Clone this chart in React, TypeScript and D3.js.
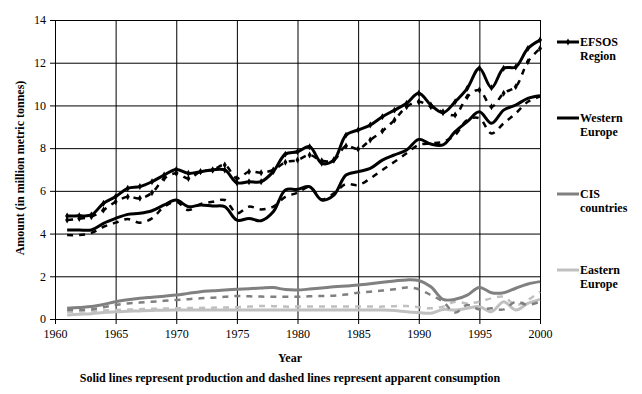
import { useEffect, useRef } from 'react';
import * as d3 from 'd3';

const years = d3.range(1961, 2001);

const efsosProd = [4.82, 4.83, 4.87, 5.42, 5.73, 6.12, 6.2, 6.43, 6.74, 7.0, 6.82, 6.9, 6.98, 6.98, 6.38, 6.43, 6.43, 6.9, 7.72, 7.83, 8.07, 7.29, 7.44, 8.61, 8.85, 9.08, 9.47, 9.78, 10.1, 10.57, 10.02, 9.66, 10.17, 10.8, 11.74, 10.83, 11.74, 11.8, 12.67, 13.06];
const efsosCons = [4.63, 4.7, 4.79, 5.1, 5.49, 5.72, 5.65, 5.91, 6.58, 6.82, 6.58, 6.9, 6.98, 7.21, 6.58, 6.9, 6.85, 6.98, 7.34, 7.44, 7.68, 7.41, 7.44, 8.1, 7.96, 8.38, 8.8, 9.32, 9.94, 10.17, 9.94, 9.7, 9.55, 10.41, 10.72, 9.94, 10.57, 10.88, 12.05, 12.67];
const westProd = [4.17, 4.17, 4.17, 4.48, 4.71, 4.9, 4.95, 5.07, 5.34, 5.57, 5.26, 5.34, 5.29, 5.26, 4.63, 4.71, 4.6, 5.02, 6.04, 6.07, 6.19, 5.57, 5.8, 6.74, 6.9, 7.05, 7.44, 7.68, 7.91, 8.41, 8.19, 8.15, 8.77, 9.24, 9.7, 9.16, 9.78, 10.02, 10.33, 10.45];
const westCons = [3.93, 3.93, 4.03, 4.32, 4.51, 4.68, 4.51, 4.71, 5.26, 5.49, 5.1, 5.38, 5.49, 5.57, 4.95, 5.26, 5.13, 5.26, 5.72, 5.91, 6.19, 5.6, 5.88, 6.32, 6.27, 6.58, 6.98, 7.36, 7.76, 8.15, 8.22, 8.3, 8.61, 9.32, 9.4, 8.69, 9.16, 9.63, 10.17, 10.41];
const cisProd = [0.5, 0.54, 0.58, 0.68, 0.81, 0.9, 0.97, 1.02, 1.07, 1.12, 1.2, 1.28, 1.32, 1.36, 1.39, 1.42, 1.45, 1.47, 1.38, 1.36, 1.4, 1.45, 1.51, 1.55, 1.59, 1.65, 1.72, 1.78, 1.83, 1.8, 1.51, 0.92, 0.92, 1.12, 1.48, 1.23, 1.23, 1.44, 1.64, 1.75];
const cisCons = [0.42, 0.42, 0.45, 0.55, 0.65, 0.73, 0.77, 0.81, 0.85, 0.89, 0.93, 0.97, 1.0, 1.04, 1.08, 1.06, 1.05, 1.04, 1.04, 1.04, 1.06, 1.08, 1.09, 1.15, 1.23, 1.28, 1.33, 1.39, 1.48, 1.39, 1.12, 0.81, 0.3, 0.66, 0.45, 0.5, 0.45, 0.81, 0.66, 0.81];
const eastProd = [0.19, 0.22, 0.25, 0.3, 0.34, 0.36, 0.38, 0.4, 0.41, 0.42, 0.42, 0.42, 0.42, 0.42, 0.42, 0.42, 0.42, 0.42, 0.42, 0.42, 0.42, 0.42, 0.42, 0.42, 0.42, 0.42, 0.42, 0.4, 0.34, 0.3, 0.27, 0.45, 0.42, 0.5, 0.58, 0.34, 0.81, 0.42, 0.73, 0.92];
const eastCons = [0.34, 0.35, 0.37, 0.4, 0.42, 0.44, 0.46, 0.48, 0.49, 0.5, 0.51, 0.52, 0.53, 0.54, 0.55, 0.58, 0.61, 0.6, 0.58, 0.58, 0.58, 0.58, 0.58, 0.58, 0.58, 0.58, 0.58, 0.6, 0.61, 0.55, 0.5, 0.58, 0.81, 0.73, 0.81, 0.97, 1.04, 0.66, 0.89, 1.28];

const yTicks = [0, 2, 4, 6, 8, 10, 12, 14];
const xTicks = [1960, 1965, 1970, 1975, 1980, 1985, 1990, 1995, 2000];

const regions = [
  { name: ['EFSOS', 'Region'], prod: efsosProd, cons: efsosCons, color: '#000000', marker: true },
  { name: ['Western', 'Europe'], prod: westProd, cons: westCons, color: '#000000', marker: false },
  { name: ['CIS', 'countries'], prod: cisProd, cons: cisCons, color: '#808080', marker: false },
  { name: ['Eastern', 'Europe'], prod: eastProd, cons: eastCons, color: '#c0c0c0', marker: false },
];

export default function App() {
  const svgRef = useRef<SVGSVGElement>(null);

  useEffect(() => {
    if (!svgRef.current) return;
    const svg = d3.select(svgRef.current);
    svg.selectAll('*').remove();

    const font = '"Liberation Serif", "Times New Roman", serif';
    const left = 55, right = 540, top = 20, bottom = 319;

    const x = d3.scaleLinear().domain([1960, 2000]).range([left, right]);
    const y = d3.scaleLinear().domain([0, 14]).range([bottom, top]);

    svg.append('rect').attr('width', 642).attr('height', 394).attr('fill', '#fff');

    // gridlines come from the axes' inner ticks, labels from their outer side
    const yAxis = svg.append('g')
      .attr('transform', `translate(${left},0)`)
      .call(d3.axisLeft(y).tickValues(yTicks).tickSize(-(right - left)).tickSizeOuter(0).tickPadding(9));
    yAxis.selectAll('.tick line').clone().attr('x2', -5);
    yAxis.select('.domain').attr('stroke', '#000');

    const xAxis = svg.append('g')
      .attr('transform', `translate(0,${bottom})`)
      .call(d3.axisBottom(x).tickValues(xTicks).tickFormat(d3.format('d')).tickSize(-(bottom - top)).tickSizeOuter(0).tickPadding(10));
    xAxis.selectAll('.tick line').clone().attr('y2', 5);

    svg.selectAll('.tick line').attr('stroke', '#000').attr('stroke-width', 1);
    svg.selectAll('.tick text').attr('font-family', font).attr('font-size', 12).attr('fill', '#000');

    // series: production solid, consumption dashed
    const line = d3.line<number>()
      .x((_, i) => x(years[i]))
      .y(d => y(d))
      .curve(d3.curveCatmullRom);

    const plot = svg.append('g');
    regions.slice().reverse().forEach(r => {
      plot.append('path').attr('d', line(r.cons)).attr('fill', 'none')
        .attr('stroke', r.color).attr('stroke-width', 2.5).attr('stroke-dasharray', '6,6');
      plot.append('path').attr('d', line(r.prod)).attr('fill', 'none')
        .attr('stroke', r.color).attr('stroke-width', 3);
      if (r.marker) {
        const sym = d3.symbol().type(d3.symbolDiamond).size(14);
        [r.prod, r.cons].forEach(vals => {
          plot.append('g').selectAll('path').data(vals).enter().append('path')
            .attr('d', sym).attr('fill', r.color)
            .attr('transform', (d, i) => `translate(${x(years[i])},${y(d)})`);
        });
      }
    });

    // legend
    const lg = svg.append('g');
    regions.forEach((r, i) => {
      const ly = 42 + i * 76;
      lg.append('line').attr('x1', 557).attr('x2', 579).attr('y1', ly).attr('y2', ly)
        .attr('stroke', r.color).attr('stroke-width', 3);
      if (r.marker) {
        lg.append('path').attr('d', d3.symbol().type(d3.symbolDiamond).size(14)).attr('fill', r.color)
          .attr('transform', `translate(568,${ly})`);
      }
      r.name.forEach((t, j) => {
        lg.append('text').attr('x', 580).attr('y', ly + 4 + j * 14)
          .attr('font-family', font).attr('font-size', 12).attr('font-weight', 'bold').text(t);
      });
    });

    // titles
    svg.append('text')
      .attr('transform', `translate(24,168) rotate(-90)`)
      .attr('text-anchor', 'middle').attr('font-family', font).attr('font-size', 12).attr('font-weight', 'bold')
      .text('Amount (in million metric tonnes)');
    svg.append('text').attr('x', 290).attr('y', 362)
      .attr('text-anchor', 'middle').attr('font-family', font).attr('font-size', 12).attr('font-weight', 'bold')
      .text('Year');
    svg.append('text').attr('x', 290).attr('y', 382)
      .attr('text-anchor', 'middle').attr('font-family', font).attr('font-size', 12).attr('font-weight', 'bold')
      .text('Solid lines represent production and dashed lines represent apparent consumption');
  }, []);

  return (
    <svg ref={svgRef} width={642} height={394} style={{ position: 'absolute', left: 0, top: 0 }} />
  );
}
